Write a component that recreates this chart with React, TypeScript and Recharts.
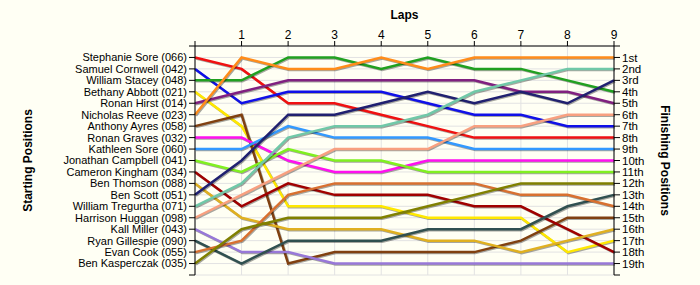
import React from "react";
import {
  LineChart,
  Line,
  XAxis,
  YAxis,
  CartesianGrid,
} from "recharts";

// Laps along the top axis
const laps: number[] = [0, 1, 2, 3, 4, 5, 6, 7, 8, 9];

// Starting grid, top to bottom
const driverNames: string[] = [
  "Stephanie Sore (066)",
  "Samuel Cornwell (042)",
  "William Stacey (048)",
  "Bethany Abbott (021)",
  "Ronan Hirst (014)",
  "Nicholas Reeve (023)",
  "Anthony Ayres (058)",
  "Ronan Graves (032)",
  "Kathleen Sore (060)",
  "Jonathan Campbell (041)",
  "Cameron Kingham (034)",
  "Ben Thomson (088)",
  "Ben Scott (051)",
  "William Tregurtha (071)",
  "Harrison Huggan (098)",
  "Kall Miller (043)",
  "Ryan Gillespie (090)",
  "Evan Cook (055)",
  "Ben Kasperczak (035)",
];

const finishLabels: string[] = [
  "1st", "2nd", "3rd", "4th", "5th", "6th", "7th", "8th", "9th", "10th",
  "11th", "12th", "13th", "14th", "15th", "16th", "17th", "18th", "19th",
];

// position at each lap (lap 0 = grid)
const stephanieSore = [1, 2, 5, 5, 6, 7, 8, 8, 8, 8];
const samuelCornwell = [2, 5, 4, 4, 4, 5, 6, 6, 7, 7];
const williamStacey = [3, 3, 1, 1, 2, 1, 2, 2, 3, 4];
const bethanyAbbott = [4, 7, 14, 14, 14, 15, 15, 15, 18, 17];
const ronanHirst = [5, 4, 3, 3, 3, 3, 3, 4, 4, 5];
const nicholasReeve = [6, 1, 2, 2, 1, 2, 1, 1, 1, 1];
const anthonyAyres = [7, 6, 19, 18, 18, 18, 18, 17, 15, 15];
const ronanGraves = [8, 8, 10, 11, 11, 10, 10, 10, 10, 10];
const kathleenSore = [9, 9, 7, 8, 8, 8, 9, 9, 9, 9];
const jonathanCampbell = [10, 11, 9, 10, 10, 11, 11, 11, 11, 11];
const cameronKingham = [11, 14, 12, 13, 13, 13, 14, 14, 16, 18];
const benThomson = [12, 15, 16, 16, 16, 17, 17, 18, 17, 16];
const benScott = [13, 10, 6, 6, 5, 4, 5, 4, 5, 3];
const williamTregurtha = [14, 12, 8, 7, 7, 6, 4, 3, 2, 2];
const harrisonHuggan = [15, 13, 11, 9, 9, 9, 7, 7, 6, 6];
const kallMiller = [16, 18, 18, 19, 19, 19, 19, 19, 19, 19];
const ryanGillespie = [17, 19, 17, 17, 17, 16, 16, 16, 14, 13];
const evanCook = [18, 17, 13, 12, 12, 12, 12, 13, 13, 14];
const benKasperczak = [19, 16, 15, 15, 15, 14, 13, 12, 12, 12];

const series: number[][] = [
  stephanieSore, samuelCornwell, williamStacey, bethanyAbbott, ronanHirst,
  nicholasReeve, anthonyAyres, ronanGraves, kathleenSore, jonathanCampbell,
  cameronKingham, benThomson, benScott, williamTregurtha, harrisonHuggan,
  kallMiller, ryanGillespie, evanCook, benKasperczak,
];

const colors: string[] = [
  "#f01010", "#1010e8", "#20a020", "#ffe800", "#802080",
  "#ff8c1a", "#804010", "#ff10f0", "#3399ff", "#80f020",
  "#a00000", "#e0b020", "#202070", "#70c8a8", "#f8a080",
  "#9878d8", "#305050", "#d87030", "#808000",
];

const posTicks: number[] = Array.from({ length: 21 }, (_, i) => i);

const chartData = laps.map((lap, li) => {
  const row: any = { lap };
  series.forEach((s, di) => {
    row["d" + di] = s[li];
  });
  return row;
});

const font = "'Liberation Sans', Arial, sans-serif";
const tickStyle = { fill: "#000", fontSize: 11, fontFamily: font };
const titleStyle = {
  fill: "#000",
  fontSize: 12,
  fontWeight: "bold",
  fontFamily: font,
  textAnchor: "middle",
};

function App() {
  return (
    <div
      style={{
        position: "absolute",
        left: 0,
        top: 0,
        width: 700,
        height: 285,
        background: "#fffff4",
      }}
    >
      <style>{`.recharts-line-curve { filter: drop-shadow(1px 1.5px 0.5px rgba(0,0,0,0.35)); }`}</style>
      <LineChart
        width={700}
        height={285}
        data={chartData}
        margin={{ top: 0, right: 0, left: 0, bottom: 10 }}
      >
        <CartesianGrid stroke="#e2e2e2" />
        <XAxis
          dataKey="lap"
          type="number"
          orientation="top"
          domain={[0, 9]}
          ticks={laps}
          height={46}
          tickSize={5}
          tickMargin={2}
          tick={{ ...tickStyle, fontSize: 12 }}
          tickFormatter={(v: number) => (v === 0 ? "" : String(v))}
          axisLine={{ stroke: "#000" }}
          tickLine={{ stroke: "#000" }}
          label={{ value: "Laps", position: "insideTop", offset: 10, style: titleStyle }}
        />
        <YAxis
          type="number"
          domain={[0, 20]}
          reversed
          ticks={posTicks}
          interval={0}
          width={195}
          tickSize={6}
          tickMargin={2}
          tick={tickStyle}
          tickFormatter={(v: number) => driverNames[v - 1] ?? ""}
          axisLine={{ stroke: "#000" }}
          tickLine={{ stroke: "#000" }}
          label={{
            value: "Starting Positions",
            angle: -90,
            position: "insideLeft",
            offset: 28,
            style: titleStyle,
          }}
        />
        <YAxis
          yAxisId="right"
          orientation="right"
          type="number"
          domain={[0, 20]}
          reversed
          ticks={posTicks}
          interval={0}
          width={86}
          tickSize={6}
          tickMargin={2}
          tick={{ ...tickStyle, fontSize: 11.5 }}
          tickFormatter={(v: number) => finishLabels[v - 1] ?? ""}
          axisLine={{ stroke: "#000" }}
          tickLine={{ stroke: "#000" }}
          label={{
            value: "Finishing Positions",
            angle: 90,
            position: "insideRight",
            offset: 35,
            style: titleStyle,
          }}
        />
        {series.map((_, di) => (
          <Line
            key={di}
            yAxisId={di === 0 ? "right" : 0}
            type="linear"
            dataKey={"d" + di}
            stroke={colors[di]}
            strokeWidth={2.5}
            dot={false}
            isAnimationActive={false}
          />
        ))}
      </LineChart>
    </div>
  );
}

export default App;
